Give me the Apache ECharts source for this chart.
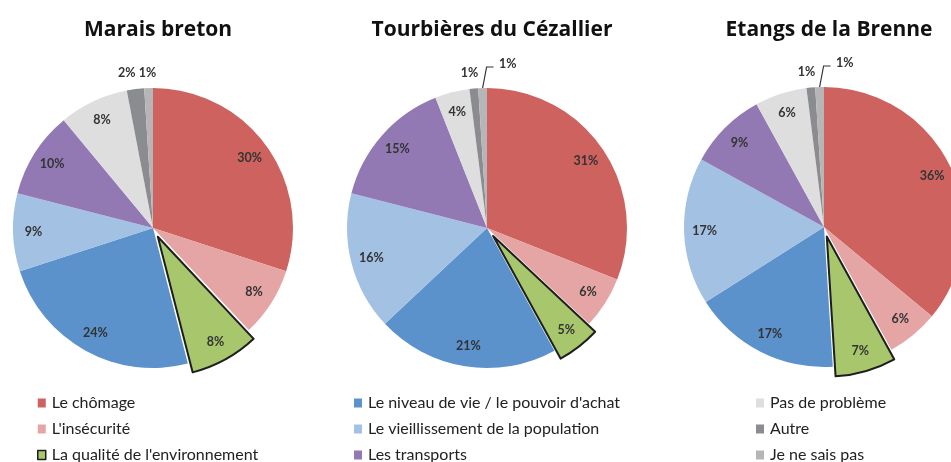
<!DOCTYPE html>
<html>
<head>
<meta charset="utf-8">
<script src="https://cdn.jsdelivr.net/npm/echarts@6/dist/echarts.min.js"></script>
<style>
  html, body { margin: 0; padding: 0; background: #fff; }
  #chart { width: 951px; height: 462px; }
</style>
</head>
<body>
<div id="chart"></div>
<script>
// catégories (ordre des parts, dans le sens horaire depuis midi)
const categories = [
  "Le chômage",
  "L'insécurité",
  "La qualité de l'environnement",
  "Le niveau de vie / le pouvoir d'achat",
  "Le vieillissement de la population",
  "Les transports",
  "Pas de problème",
  "Autre",
  "Je ne sais pas",
];
const sites = ["Marais breton", "Tourbières du Cézallier", "Etangs de la Brenne"];
const marais = [30, 8, 8, 24, 9, 10, 8, 2, 1];
const tourbieres = [31, 6, 5, 21, 16, 15, 4, 1, 1];
const brenne = [36, 6, 7, 17, 17, 9, 6, 1, 1];

const colors = ["#cd625f", "#e4a5a4", "#a8c66c", "#5b92cb", "#a3c1e3", "#9279b4", "#dedede", "#8b8c90", "#b6b6b8"];
const FONT = "Lato";
const centers = [[153, 228], [487, 228], [824, 227]];
const R = 140;
const AUTRE = 7, NSP = 8;

function mainSeries(values, i) {
  return {
    type: "pie",
    center: centers[i],
    radius: [0, R],
    startAngle: 90,
    clockwise: true,
    selectedMode: "single",
    selectedOffset: 10,
    silent: true,
    label: { show: false },
    labelLine: { show: false },
    data: values.map((v, k) => {
      const d = { name: categories[k], value: v, itemStyle: { color: colors[k], borderWidth: 0 } };
      if (k === 2) {
        d.selected = true;
        d.itemStyle = { color: colors[k], borderColor: "#1e1e1e", borderWidth: 2 };
        d.select = { itemStyle: { color: colors[k], borderColor: "#1e1e1e", borderWidth: 2 } };
      }
      return d;
    }),
  };
}

// anneau transparent qui porte les étiquettes (placées plus près du bord)
function labelSeries(values, i) {
  const withLeader = i > 0; // "Je ne sais pas" relié par un trait sauf au Marais breton
  return {
    type: "pie",
    center: centers[i],
    radius: [93, R],
    startAngle: 90,
    clockwise: true,
    selectedMode: "single",
    selectedOffset: 10,
    silent: true,
    avoidLabelOverlap: false,
    itemStyle: { color: "rgba(0,0,0,0)", borderWidth: 0 },
    label: {
      show: true,
      position: "inside",
      formatter: "{c}%",
      fontFamily: FONT,
      fontSize: 12.5,
      fontWeight: "bold",
      color: "#333",
    },
    labelLine: { show: false },
    labelLayout: p => {
      const r = p.rect;
      if (p.dataIndex === AUTRE) {
        return { x: r.x, y: r.y - 15, align: "center", verticalAlign: "middle" };
      }
      if (p.dataIndex === NSP) {
        if (!withLeader) {
          return { x: r.x + r.width / 2 - 1, y: r.y - 15, align: "center", verticalAlign: "middle" };
        }
        const x0 = r.x + r.width / 2, y0 = r.y;
        return {
          x: r.x + r.width + 12,
          y: r.y - 24,
          align: "left",
          verticalAlign: "middle",
          labelLinePoints: [[x0, y0], [x0 + 4, y0 - 21], [x0 + 11, y0 - 21]],
        };
      }
    },
    data: values.map((v, k) => {
      const d = { name: categories[k], value: v, itemStyle: { color: "rgba(0,0,0,0)" } };
      if (k === 2) {
        d.selected = true;
        d.select = { itemStyle: { color: "rgba(0,0,0,0)", borderWidth: 0 } };
      }
      if (k >= AUTRE) {
        const lead = k === NSP && withLeader;
        d.label = { position: "outside" };
        d.labelLine = { show: lead, length: 10, length2: 6, lineStyle: { color: "#333", width: 1.2 } };
      }
      return d;
    }),
  };
}

function legendCol(left, names) {
  return {
    orient: "vertical",
    left: left,
    top: 395,
    height: 90,
    padding: 0,
    icon: "rect",
    itemWidth: 8,
    itemHeight: 9,
    itemGap: 10,
    selectedMode: false,
    textStyle: { fontFamily: FONT, fontSize: 16, lineHeight: 16, color: "#222", padding: [0, 0, 0, 1] },
    data: names.map(n => {
      const k = categories.indexOf(n);
      const it = { name: n, itemStyle: { color: colors[k], borderWidth: 0 } };
      if (k === 2) it.itemStyle = { color: colors[k], borderColor: "#1e1e1e", borderWidth: 1.5 };
      return it;
    }),
  };
}

const chart = echarts.init(document.getElementById("chart"), null, { renderer: "canvas" });
const all = [marais, tourbieres, brenne];

chart.setOption({
  animation: false,
  title: sites.map((s, i) => ({
    text: s,
    left: centers[i][0],
    top: 15,
    textAlign: "center",
    textStyle: { fontFamily: "Open Sans", fontSize: 21, fontWeight: "bold", color: "#111" },
  })),
  legend: [
    legendCol(37, categories.slice(0, 3)),
    legendCol(354, categories.slice(3, 6)),
    legendCol(756, categories.slice(6, 9)),
  ],
  series: [...all.map(mainSeries), ...all.map(labelSeries)],
});
</script>
</body>
</html>
